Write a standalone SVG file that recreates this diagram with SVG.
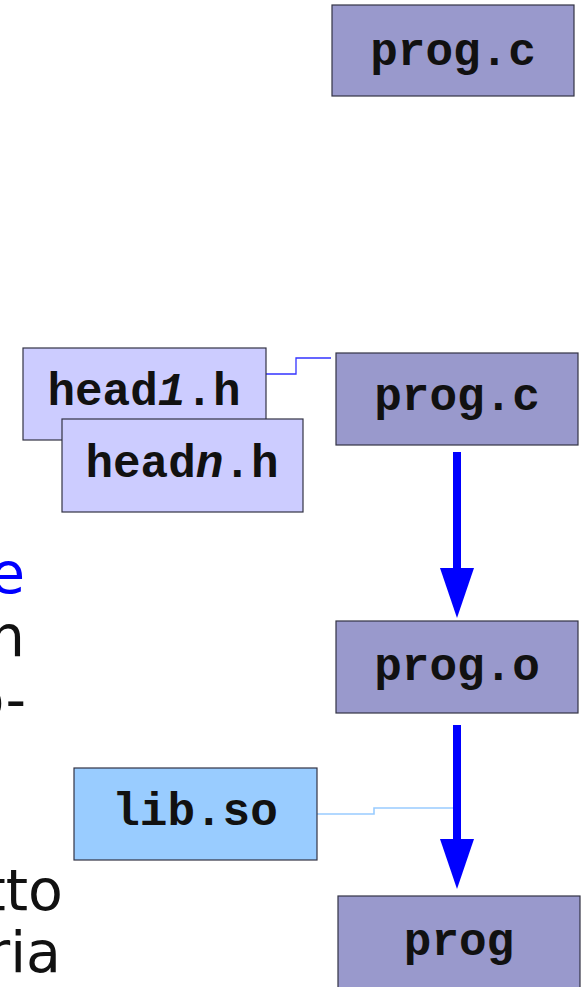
<svg xmlns="http://www.w3.org/2000/svg" width="583" height="987" viewBox="0 0 583 987">
  <style>
    .box { stroke: #333344; stroke-width: 1.2; }
    .src { fill: #9999cc; }
    .hdr { fill: #ccccff; }
    .lib { fill: #99ccff; }
    .lbl { font-family: "Liberation Mono", "Courier New", monospace; font-weight: bold; font-size: 46px; fill: #111111; text-anchor: middle; }
    .body { font-family: "DejaVu Sans", Verdana, sans-serif; font-size: 57px; fill: #111111; text-anchor: end; }
    .flow { stroke: #0000ff; stroke-width: 8; fill: none; }
  </style>
  <defs>
    <marker id="head" viewBox="0 0 50 34" markerWidth="50" markerHeight="34" refX="0" refY="17" orient="auto" markerUnits="userSpaceOnUse">
      <path d="M0,0 L50,17 L0,34 Z" fill="#0000ff"/>
    </marker>
  </defs>

  <!-- body text running off the left edge -->
  <g id="body-text">
    <text class="body" x="25" y="593" fill="#0000ff" style="fill:#0000ff">e</text>
    <text class="body" x="25" y="656">n</text>
    <text class="body" x="26" y="719">o-</text>
    <text class="body" x="63" y="910">tto</text>
    <text class="body" x="61" y="972">ria</text>
  </g>

  <!-- connectors -->
  <g id="connectors">
    <polyline points="262,374 296,374 296,358 331,358" fill="none" stroke="#3333ff" stroke-width="1.3"/>
    <polyline points="317,814 374,814 374,808 457,808" fill="none" stroke="#99ccff" stroke-width="1.6"/>
    <line class="flow" x1="457" y1="452" x2="457" y2="568" marker-end="url(#head)"/>
    <line class="flow" x1="457" y1="725" x2="457" y2="839" marker-end="url(#head)"/>
  </g>

  <g id="prog-c-top">
    <rect class="box src" x="332" y="5" width="242" height="91"/>
    <text class="lbl" x="453" y="65">prog.c</text>
  </g>

  <g id="head1-h">
    <rect class="box hdr" x="23" y="348" width="243" height="92"/>
    <text class="lbl" x="144" y="405">head<tspan font-style="italic">1</tspan>.h</text>
  </g>

  <g id="headn-h">
    <rect class="box hdr" x="62" y="419" width="241" height="93"/>
    <text class="lbl" x="182" y="477">head<tspan font-style="italic">n</tspan>.h</text>
  </g>

  <g id="prog-c">
    <rect class="box src" x="336" y="353" width="242" height="92"/>
    <text class="lbl" x="457" y="410">prog.c</text>
  </g>

  <g id="prog-o">
    <rect class="box src" x="336" y="621" width="242" height="92"/>
    <text class="lbl" x="457" y="680">prog.o</text>
  </g>

  <g id="lib-so">
    <rect class="box lib" x="74" y="768" width="243" height="92"/>
    <text class="lbl" x="195" y="825">lib.so</text>
  </g>

  <g id="prog">
    <rect class="box src" x="338" y="896" width="242" height="94"/>
    <text class="lbl" x="459" y="955">prog</text>
  </g>
</svg>
